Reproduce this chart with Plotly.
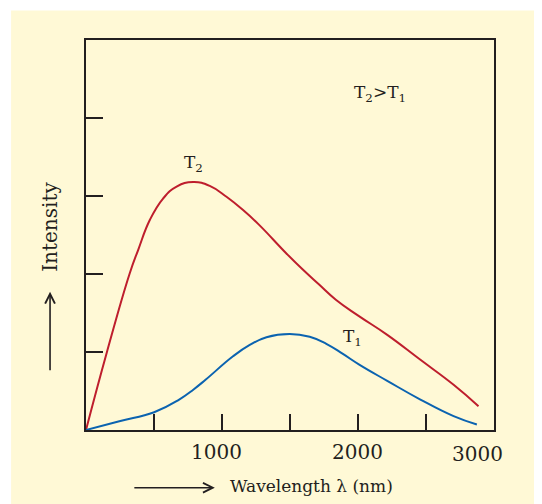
import plotly.graph_objects as go

# ---- data ----
wavelength_T2 = [0, 154, 320, 384, 470, 568, 666, 788, 910, 1033, 1155, 1273,
                 1470, 1592, 1714, 1837, 2007, 2215, 2459, 2703, 2886]
intensity_T2 = [0, 1.0, 2.0, 2.31, 2.695, 2.97, 3.12, 3.18, 3.13, 2.99, 2.82, 2.63,
                2.27, 2.06, 1.865, 1.67, 1.46, 1.22, 0.90, 0.58, 0.305]

wavelength_T1 = [0, 245, 501, 685, 791, 881, 1081, 1204, 1327, 1498, 1645, 1767, 1889,
                 2012, 2215, 2459, 2703, 2874]
intensity_T1 = [0, 0.113, 0.228, 0.39, 0.52, 0.647, 0.945, 1.09, 1.19, 1.232, 1.195, 1.105,
                0.975, 0.835, 0.63, 0.39, 0.177, 0.07]

x_ticks = [500, 1000, 1500, 2000, 2500]
y_ticks = [1, 2, 3, 4]
x_tick_labels = ["1000", "2000", "3000"]
x_tick_label_pos = [962, 1995, 2876]

FONT = "DejaVu Serif"
INK = "#231F20"
RED = "#BE1E2D"
BLUE = "#0B63B0"
YELLOW = "#FFF9D6"

# plot-area box in reference pixels (page has an 8px body margin)
PAGE_OFF = 8
L, R, T, B = 86, 494.5, 40, 430.5
PW, PH = R - L, B - T


def px(xp):
    return (xp - L) / PW


def py(yp):
    return (B - yp) / PH


fig = go.Figure()
fig.add_trace(go.Scatter(x=wavelength_T2, y=intensity_T2, mode="lines",
                         line=dict(color=RED, width=2, shape="spline", smoothing=1.3),
                         hoverinfo="skip"))
fig.add_trace(go.Scatter(x=wavelength_T1, y=intensity_T1, mode="lines",
                         line=dict(color=BLUE, width=2, shape="spline", smoothing=1.3),
                         hoverinfo="skip"))

axis_common = dict(showgrid=False, zeroline=False, showline=True, mirror=True,
                   linecolor=INK, linewidth=2, ticks="inside", tickwidth=2,
                   tickcolor=INK, showticklabels=False)
fig.update_xaxes(range=[0, 3000], tickvals=x_ticks, ticklen=16, **axis_common)
fig.update_yaxes(range=[0, 5], tickvals=y_ticks, ticklen=17, **axis_common)

CM = dict(xanchor="center", yanchor="middle", showarrow=False)

annotations = []
for lab, pos in zip(x_tick_labels, x_tick_label_pos):
    annotations.append(dict(x=pos, y=0, xref="x", yref="y", text=lab,
                            yshift=-22 if lab != "3000" else -24,
                            font=dict(family=FONT, size=20, color=INK), **CM))

annotations += [
    dict(x=2159, y=4.32, xref="x", yref="y", text="T<sub>2</sub>>T<sub>1</sub>",
         font=dict(family=FONT, size=17, color=INK), **CM),
    dict(x=790, y=3.42, xref="x", yref="y", text="T<sub>2</sub>",
         font=dict(family=FONT, size=17, color=INK), **CM),
    dict(x=1960, y=1.18, xref="x", yref="y", text="T<sub>1</sub>",
         font=dict(family=FONT, size=17, color=INK), **CM),
    # axis titles
    dict(x=px(50), y=py(227), xref="paper", yref="paper",
         text="Intensity", textangle=-90,
         font=dict(family=FONT, size=20, color=INK), **CM),
    dict(x=px(312), y=py(486.5), xref="paper", yref="paper",
         text="Wavelength λ (nm)",
         font=dict(family=FONT, size=17, color=INK), **CM),
    # arrows
    dict(x=px(50), y=py(292), xref="paper", yref="paper",
         ax=0, ay=80, axref="pixel", ayref="pixel", text="", showarrow=True,
         arrowhead=5, arrowsize=1.2, arrowwidth=1.6, arrowcolor=INK),
    dict(x=px(215), y=py(488.3), xref="paper", yref="paper",
         ax=-82, ay=0, axref="pixel", ayref="pixel", text="", showarrow=True,
         arrowhead=5, arrowsize=1.2, arrowwidth=1.6, arrowcolor=INK),
]

shapes = [
    # white strips above / left of the yellow panel
    dict(type="rect", xref="paper", yref="paper", layer="below",
         x0=px(-20), x1=px(560), y0=py(10.5), y1=py(-20),
         fillcolor="white", line=dict(width=0)),
    dict(type="rect", xref="paper", yref="paper", layer="below",
         x0=px(-20), x1=px(11), y0=py(520), y1=py(-20),
         fillcolor="white", line=dict(width=0)),
]

fig.update_layout(
    width=542 - PAGE_OFF, height=504 - PAGE_OFF,
    margin=dict(l=L - PAGE_OFF, r=542 - R, t=T - PAGE_OFF, b=504 - B, autoexpand=False),
    paper_bgcolor=YELLOW, plot_bgcolor=YELLOW,
    showlegend=False,
    annotations=annotations,
    shapes=shapes,
)

fig.write_html("out.html")
